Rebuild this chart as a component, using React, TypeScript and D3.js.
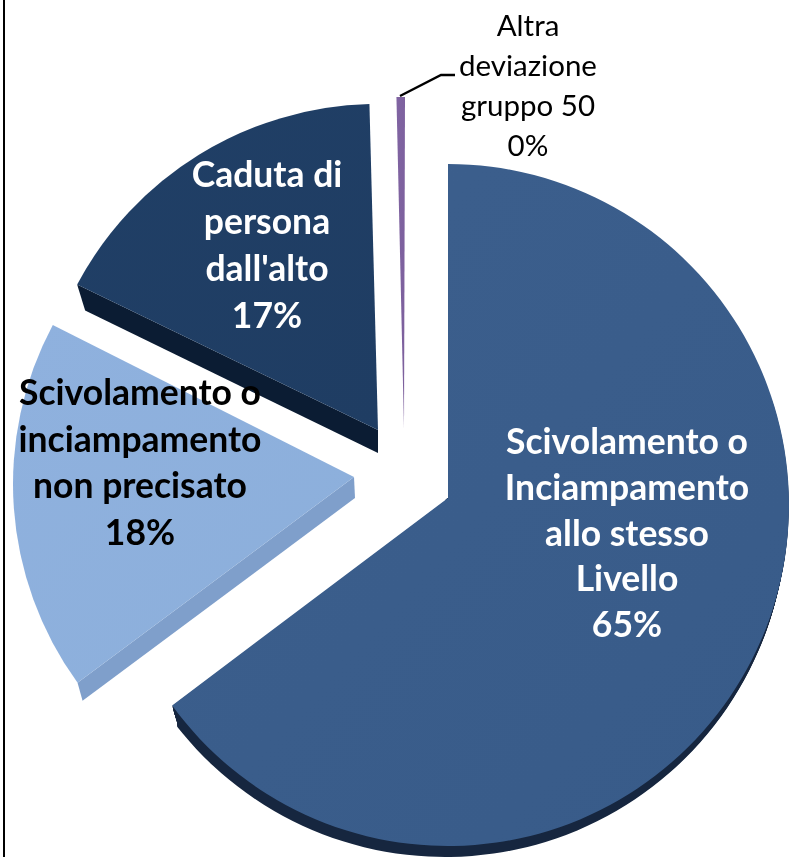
import React from "react";
import * as d3 from "d3";

const categoryLines = [
  ["Scivolamento o", "Inciampamento", "allo stesso", "Livello"],
  ["Scivolamento o", "inciampamento", "non precisato"],
  ["Caduta di", "persona", "dall'alto"],
  ["Altra", "deviazione", "gruppo 50"],
];
const values = [65, 17.8, 16.8, 0.4];
const percentLabels = ["65%", "18%", "17%", "0%"];

const topColors = ["#3c5f8d", "#8fb1de", "#203f66", "#8064a2"];
const topColorsEnd = ["#385b89", "#8cafdb", "#1f3d63", "#7c5f9c"];
const wallColors = ["#16263f", "#7f9fcb", "#0b1c33", "#5f4a7c"];

const layout = [
  { cx: 448, cy: 505, r: 341, ax: 448, ay: 498 },
  { cx: 351, cy: 484, r: 338, ax: 354, ay: 477 },
  { cx: 378, cy: 445, r: 341, ax: 378, ay: 430 },
  { cx: 405, cy: 438, r: 341, ax: 404, ay: 428 },
];
const labelStyle = [
  { x: 627, y: 454, lh: 45.8, fill: "#ffffff", weight: 700, size: 35.5 },
  { x: 140, y: 405, lh: 46.5, fill: "#000000", weight: 700, size: 35.5 },
  { x: 267, y: 187, lh: 47, fill: "#ffffff", weight: 700, size: 35.5 },
  { x: 528, y: 36, lh: 40, fill: "#000000", weight: 400, size: 29.5 },
];
const drawOrder = [3, 2, 1, 0];

const pie = d3.pie<number>().sort(null).startAngle(0).endAngle(2 * Math.PI);
const arcs = pie(values);

function rimPoint(i: number, angle: number) {
  const l = layout[i];
  const a = angle - Math.PI / 2;
  return [l.cx + l.r * Math.cos(a), l.cy + l.r * Math.sin(a)] as [number, number];
}

function slicePath(i: number, ox = 0, oy = 0) {
  const l = layout[i];
  const a = arcs[i];
  const s = a.startAngle - Math.PI / 2;
  const e = a.endAngle - Math.PI / 2;
  const p = d3.path();
  p.moveTo(l.ax + ox, l.ay + oy);
  p.lineTo(l.cx + ox + l.r * Math.cos(s), l.cy + oy + l.r * Math.sin(s));
  p.arc(l.cx + ox, l.cy + oy, l.r, s, e);
  p.closePath();
  return p.toString();
}

// Side wall running along the straight edge that faces the viewer
function edgeWall(i: number, apexShift: number[], rimShift: number[]) {
  const l = layout[i];
  const [x, y] = rimPoint(i, arcs[i].startAngle);
  return (
    d3.line()([
      [l.ax, l.ay],
      [x, y],
      [x + rimShift[0], y + rimShift[1]],
      [l.ax + apexShift[0], l.ay + apexShift[1]],
    ]) + "Z"
  );
}

const mainWallSteps = d3.range(1, 12);

export default function App() {
  const leader = d3.line()([
    [400, 96],
    [441, 75],
    [455, 75],
  ]) as string;
  const [mx, my] = rimPoint(0, arcs[0].endAngle);
  const mainClip = d3.line()([
    [layout[0].ax, layout[0].ay],
    [mx, my],
    [mx + 5, my + 17],
    [mx + 5, 900],
    [800, 900],
    [800, 400],
    [layout[0].ax, 400],
  ]) as string;
  return (
    <svg
      width={790}
      height={857}
      style={{ position: "absolute", left: 0, top: 0, background: "#fff", display: "block" }}
    >
      <defs>
        {values.map((_, i) => (
          <linearGradient key={i} id={`g${i}`} x1="0" y1="0" x2="1" y2="1">
            <stop offset="0" stopColor={topColors[i]} />
            <stop offset="1" stopColor={topColorsEnd[i]} />
          </linearGradient>
        ))}
        <clipPath id="mainWallClip">
          <path d={mainClip + "Z"} />
        </clipPath>
        <filter id="soft" x="-5%" y="-5%" width="110%" height="110%">
          <feGaussianBlur stdDeviation="0.35" />
        </filter>
      </defs>
      <rect x={3} y={0} width={2} height={857} fill="#000" />
      {drawOrder.map((i) => (
        <g key={i}>
          {i === 0 && (
            <g clipPath="url(#mainWallClip)">
              {mainWallSteps.map((k) => (
                <path key={k} d={slicePath(0, -k / 4, k)} fill={wallColors[0]} />
              ))}
            </g>
          )}
          {i === 1 && <path d={edgeWall(1, [1, 21], [5, 18])} fill={wallColors[1]} />}
          {i === 2 && <path d={edgeWall(2, [0, 23], [8, 26])} fill={wallColors[2]} />}
          <path d={slicePath(i)} fill={`url(#g${i})`} />
        </g>
      ))}
      <path d={leader} fill="none" stroke="#000" strokeWidth={2.4} />
      <g filter="url(#soft)" fontFamily="Lato, 'Open Sans', sans-serif" textAnchor="middle">
        {categoryLines.map((lines, i) => {
          const st = labelStyle[i];
          return (
            <text key={i} fill={st.fill} fontWeight={st.weight} fontSize={st.size}>
              {[...lines, percentLabels[i]].map((t, j) => (
                <tspan key={j} x={st.x} y={st.y + j * st.lh}>
                  {t}
                </tspan>
              ))}
            </text>
          );
        })}
      </g>
    </svg>
  );
}
